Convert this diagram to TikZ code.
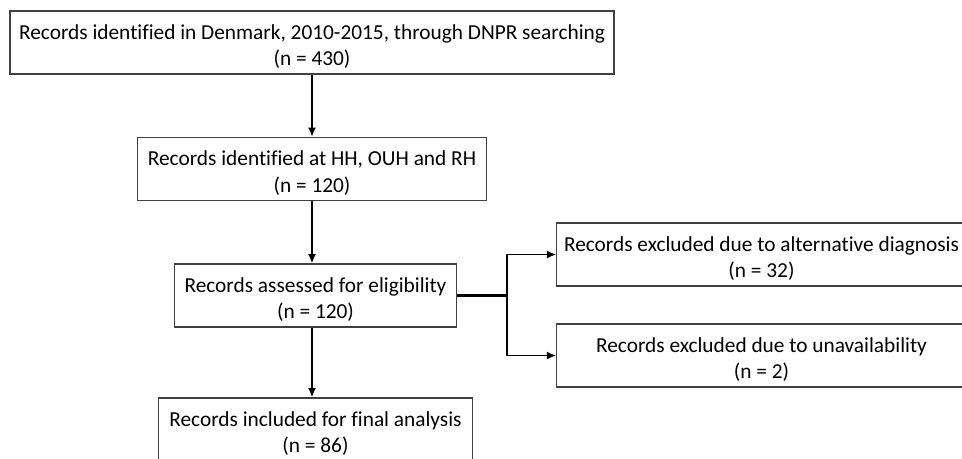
\documentclass[tikz,border=0pt]{standalone}
\usepackage{fontspec}
\setmainfont{Carlito}[Ligatures=NoCommon]
\usetikzlibrary{arrows.meta}
\newcommand{\boxtext}[2]{\rule{0pt}{17pt}#1\\#2}
\begin{document}
\begin{tikzpicture}[x=0.75pt,y=-0.75pt,
	box/.style={draw=black!75,line width=0.8pt,align=center,inner sep=0pt,
		font=\fontsize{16}{20}\selectfont,minimum height=47.25pt},
	arr/.style={black,line width=1.4pt,-{Latex[length=7pt,width=6pt]}},
	branch/.style={black,line width=2.2pt}]
	\useasboundingbox (0,0) rectangle (962,458);
	\clip (0,0) rectangle (962,458);
	\node [box,minimum width=453pt] (b1) at (312,42.5) {\boxtext{Records identified in Denmark, 2010-2015, through DNPR searching}{(n = 430)}};
	\node [box,minimum width=262pt] (b2) at (312,169) {\boxtext{Records identified at HH, OUH and RH}{(n = 120)}};
	\node [box,minimum width=212pt] (b3) at (315.5,295.5) {\boxtext{Records assessed for eligibility}{(n = 120)}};
	\node [box,minimum width=236pt] (b4) at (315.5,429.5) {\boxtext{Records included for final analysis}{(n = 86)}};
	\node [box,minimum width=307pt] (r1) at (761.5,254.5) {\boxtext{Records excluded due to alternative diagnosis}{(n = 32)}};
	\node [box,minimum width=307pt] (r2) at (761.5,355.5) {\boxtext{Records excluded due to unavailability}{(n = 2)}};
	\coordinate (split) at (507,295.5);
	\draw [arr] (b1.south) -- (b2.north);
	\draw [arr] (b2.south) -- (b3.north -| b2.south);
	\draw [arr] (b3.south -| b2.south) -- (b4.north -| b2.south);
	\draw [branch] (b3.east) -- (split);
	\draw [arr] (split) |- (r1.west);
	\draw [arr] (split) |- (r2.west);
\end{tikzpicture}
\end{document}
